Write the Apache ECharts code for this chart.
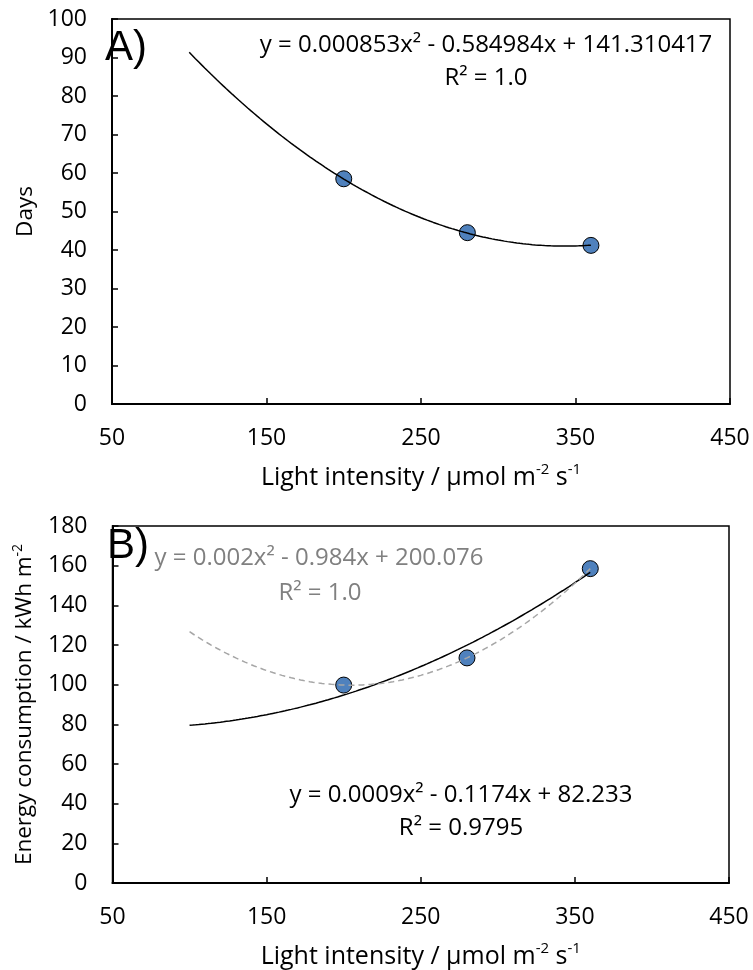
<!DOCTYPE html>
<html><head><meta charset="utf-8">
<script src="https://cdn.jsdelivr.net/npm/echarts@6/dist/echarts.min.js"></script>
<style>html,body{margin:0;padding:0;background:#fff}#c{width:753px;height:970px}</style>
</head><body><div id="c"></div>
<script>
// ---- data ----
const lightIntensity = [200, 280, 360];
const days = [58.5, 44.5, 41.2];
const energy = [99.8, 113.5, 158.5];
const xTickLabels = ['50', '150', '250', '350', '450'];
const daysTickLabels = ['0','10','20','30','40','50','60','70','80','90','100'];
const energyTickLabels = ['0','20','40','60','80','100','120','140','160','180'];
// trendline coefficients [a, b, c] as printed on the chart
const daysTrend = [0.000853, -0.584984, 141.310417];
const energyTrendBlack = [0.0009, -0.1174, 82.233];
const trendStart = 100;
const eqA = ['y = 0.000853x² - 0.584984x + 141.310417', 'R² = 1.0'];
const eqBGray = ['y = 0.002x² - 0.984x + 200.076', 'R² = 1.0'];
const eqBBlack = ['y = 0.0009x² - 0.1174x + 82.233', 'R² = 0.9795'];
const panelLabels = ['A)', 'B)'];
const xName = ['Light intensity / µmol m', '-2', ' s', '-1'];
const daysName = 'Days';
const energyName = ['Energy consumption / kWh m', '-2'];

// quadratic least-squares fit (exact for three points)
function fitQuad(xs, ys) {
  let S = [0,0,0,0,0], T = [0,0,0];
  for (let i = 0; i < xs.length; i++) {
    let p = 1;
    for (let k = 0; k < 5; k++) { S[k] += p; p *= xs[i]; }
    T[0] += ys[i]; T[1] += ys[i]*xs[i]; T[2] += ys[i]*xs[i]*xs[i];
  }
  const M = [[S[4],S[3],S[2],T[2]],[S[3],S[2],S[1],T[1]],[S[2],S[1],S[0],T[0]]];
  for (let i = 0; i < 3; i++) {
    for (let j = i+1; j < 3; j++) {
      const f = M[j][i]/M[i][i];
      for (let k = i; k < 4; k++) M[j][k] -= f*M[i][k];
    }
  }
  const r = [0,0,0];
  for (let i = 2; i >= 0; i--) {
    let s = M[i][3];
    for (let k = i+1; k < 3; k++) s -= M[i][k]*r[k];
    r[i] = s/M[i][i];
  }
  return r;
}
function curve(coef, x0, x1) {
  const pts = [];
  for (let x = x0; x <= x1 + 1e-9; x += 2) pts.push([x, coef[0]*x*x + coef[1]*x + coef[2]]);
  return pts;
}
const energyTrendGray = fitQuad(lightIntensity, energy);
const xMax = Math.max(...lightIntensity);

const FONT = 'Open Sans';
const fs = 23;
function richStyles(size, supSize) {
  return {
    n: {fontFamily: FONT, fontSize: size, color: '#000', lineHeight: size + 6, verticalAlign: 'bottom'},
    s: {fontFamily: FONT, fontSize: supSize, color: '#000', lineHeight: size + 6, verticalAlign: 'top', padding: [3,0,0,0]}
  };
}
function xAxisCfg(idx) {
  return {
    gridIndex: idx, type: 'value', min: +xTickLabels[0], max: +xTickLabels[xTickLabels.length-1], interval: 100,
    axisLine: {show: true, onZero: false, lineStyle: {color: '#000', width: 2}},
    axisTick: {show: true, inside: true, length: 6, lineStyle: {color: '#000', width: 1.5}},
    axisLabel: {color: '#000', fontFamily: FONT, fontSize: fs, margin: 23},
    splitLine: {show: false},
    name: '{n|' + xName[0] + '}{s|' + xName[1] + '}{n|' + xName[2] + '}{s|' + xName[3] + '}',
    nameLocation: 'middle', nameGap: 55,
    nameTextStyle: {rich: richStyles(25, 15)}
  };
}
function yAxisCfg(idx, labels, step, nameRich, gap) {
  return {
    gridIndex: idx, type: 'value', min: +labels[0], max: +labels[labels.length-1], interval: step,
    axisLine: {show: true, lineStyle: {color: '#000', width: 2}},
    axisTick: {show: true, inside: true, length: 6, lineStyle: {color: '#000', width: 1.5}},
    axisLabel: {color: '#000', fontFamily: FONT, fontSize: fs, margin: 25},
    splitLine: {show: false},
    name: nameRich, nameLocation: 'middle', nameGap: gap, nameRotate: 90,
    nameTextStyle: {rich: richStyles(22.5, 14)}
  };
}
function txt(text, x, y, color, size, family) {
  return {type: 'text', z: 100, style: {text: text, x: x, y: y, fill: color,
    font: size + 'px "' + (family || FONT) + '"', textAlign: 'center', textVerticalAlign: 'middle'}};
}

const chart = echarts.init(document.getElementById('c'), null, {renderer: 'canvas'});
chart.setOption({
  backgroundColor: '#fff',
  animation: false,
  grid: [
    {left: 112, top: 19, width: 618, height: 385, show: true, borderColor: '#000', borderWidth: 1.5, backgroundColor: 'transparent'},
    {left: 112, top: 526, width: 617, height: 360, show: true, borderColor: '#000', borderWidth: 1.5, backgroundColor: 'transparent'}
  ],
  xAxis: [xAxisCfg(0), xAxisCfg(1)],
  yAxis: [
    yAxisCfg(0, daysTickLabels, 10, '{n|' + daysName + '}', 70),
    yAxisCfg(1, energyTickLabels, 20, '{n|' + energyName[0] + '}{s|' + energyName[1] + '}', 76)
  ],
  series: [
    {type: 'scatter', xAxisIndex: 0, yAxisIndex: 0, z: 2, symbol: 'circle', symbolSize: 16,
     itemStyle: {color: '#4F81BD', borderColor: '#000', borderWidth: 1, opacity: 1},
     data: lightIntensity.map((x, i) => [x, days[i]])},
    {type: 'line', xAxisIndex: 0, yAxisIndex: 0, z: 3, showSymbol: false, symbol: 'none', smooth: false,
     lineStyle: {color: '#000', width: 1.5}, data: curve(daysTrend, trendStart, xMax)},
    {type: 'scatter', xAxisIndex: 1, yAxisIndex: 1, z: 2, symbol: 'circle', symbolSize: 16,
     itemStyle: {color: '#4F81BD', borderColor: '#000', borderWidth: 1, opacity: 1},
     data: lightIntensity.map((x, i) => [x, energy[i]])},
    {type: 'line', xAxisIndex: 1, yAxisIndex: 1, z: 3, showSymbol: false, symbol: 'none', smooth: false,
     lineStyle: {color: '#000', width: 1.5}, data: curve(energyTrendBlack, trendStart, xMax)},
    {type: 'line', xAxisIndex: 1, yAxisIndex: 1, z: 4, showSymbol: false, symbol: 'none', smooth: false,
     lineStyle: {color: '#A6A6A6', width: 1.5, type: [6, 4]}, data: curve(energyTrendGray, trendStart, xMax)}
  ],
  graphic: [
    txt(panelLabels[0], 126, 48, '#000', 42, 'Liberation Sans'),
    txt(panelLabels[1], 128, 546, '#000', 42, 'Liberation Sans'),
    txt(eqA[0], 486, 45, '#000', 24),
    txt(eqA[1], 486, 78, '#000', 24),
    txt(eqBGray[0], 319, 558, '#808080', 24),
    txt(eqBGray[1], 320, 593, '#808080', 24),
    txt(eqBBlack[0], 461, 795, '#000', 24),
    txt(eqBBlack[1], 461, 828, '#000', 24)
  ]
});
</script></body></html>
